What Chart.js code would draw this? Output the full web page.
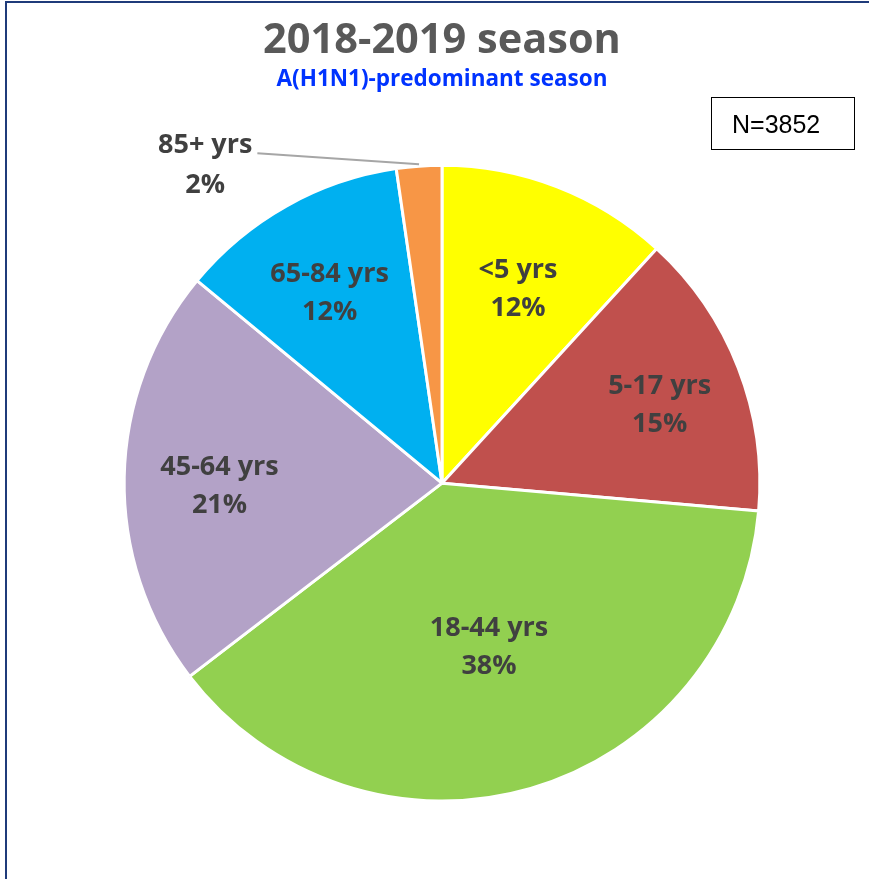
<!DOCTYPE html>
<html>
<head>
<meta charset="utf-8">
<script src="https://cdn.jsdelivr.net/npm/chart.js@4/dist/chart.umd.min.js"></script>
<style>
  html, body { margin: 0; padding: 0; background: #fff; }
  #wrap { position: relative; width: 869px; height: 879px; overflow: hidden; }
  #frame {
    position: absolute; left: 5px; top: 1px; width: 900px; height: 900px;
    border-left: 2px solid #1F3B7A; border-top: 2px solid #1F3B7A;
  }
  #nbox {
    position: absolute; left: 711px; top: 97px; width: 122px; height: 51px;
    padding-left: 20px;
    border: 1.5px solid #000; font-family: "Liberation Sans", Arial, sans-serif;
    font-size: 25px; line-height: 52px; text-align: left; color: #000;
  }
  canvas { position: absolute; left: 0; top: 0; }
</style>
</head>
<body>
<div id="wrap">
  <div id="frame"></div>
  <canvas id="pieChart" width="869" height="879"></canvas>
  <div id="nbox">N=3852</div>
</div>
<script>
// --- data ---
const ageGroups = ["<5 yrs", "5-17 yrs", "18-44 yrs", "45-64 yrs", "65-84 yrs", "85+ yrs"];
const sharePct = [11.8, 14.6, 38.2, 21.4, 11.7, 2.3];
const shareLabels = ["12%", "15%", "38%", "21%", "12%", "2%"];
const sliceColors = ["#FFFF00", "#C0504D", "#92D050", "#B3A2C7", "#00B0F0", "#F79646"];

// posisi label: fraksi jari-jari + geser sudut (derajat); null = label luar dengan garis
const labelRadius = [0.66, 0.73, 0.53, 0.70, 0.70, null];
const labelTurn = [0, 1, 0, -1.5, -1, 0];

const labelFont = 'bold 27px "Open Sans", sans-serif';
const labelColor = "#404040";

// plugin label irisan
const sliceLabels = {
  id: "sliceLabels",
  afterDatasetsDraw(chart) {
    const ctx = chart.ctx;
    const arcs = chart.getDatasetMeta(0).data;
    ctx.save();
    ctx.font = labelFont;
    ctx.fillStyle = labelColor;
    ctx.textAlign = "center";
    ctx.textBaseline = "middle";
    arcs.forEach((arc, i) => {
      const mid = (arc.startAngle + arc.endAngle) / 2;
      const r = labelRadius[i];
      if (r !== null) {
        const a = mid + labelTurn[i] * Math.PI / 180;
        const x = arc.x + Math.cos(a) * arc.outerRadius * r;
        const y = arc.y + Math.sin(a) * arc.outerRadius * r + 2;
        ctx.fillText(ageGroups[i], x, y - 19);
        ctx.fillText(shareLabels[i], x, y + 19);
      } else {
        // label luar (85+) dengan garis penunjuk
        const lx = arc.x - arc.outerRadius * 0.745;
        const ly = arc.y - arc.outerRadius * 1.0;
        ctx.fillText(ageGroups[i], lx, ly - 20);
        ctx.fillText(shareLabels[i], lx, ly + 20);
        const w = ctx.measureText(ageGroups[i]).width;
        const ex = arc.x + Math.cos(mid) * arc.outerRadius;
        const ey = arc.y + Math.sin(mid) * arc.outerRadius;
        ctx.strokeStyle = "#A6A6A6";
        ctx.lineWidth = 2;
        ctx.beginPath();
        ctx.moveTo(lx + w / 2 + 5, ly - 12);
        ctx.lineTo(ex, ey - 2);
        ctx.stroke();
      }
    });
    ctx.restore();
  }
};

new Chart(document.getElementById("pieChart"), {
  type: "pie",
  data: {
    labels: ageGroups,
    datasets: [{
      data: sharePct,
      backgroundColor: sliceColors,
      borderColor: "#FFFFFF",
      borderWidth: 3
    }]
  },
  options: {
    responsive: false,
    animation: false,
    events: [],
    layout: { padding: { left: 122.5, right: 107.5, top: 0, bottom: 76.5 } },
    plugins: {
      legend: { display: false },
      tooltip: { enabled: false },
      title: {
        display: true,
        text: "2018-2019 season",
        color: "#595959",
        font: { family: "Open Sans", size: 41.5, weight: "bold" },
        padding: { top: 16, bottom: 0 }
      },
      subtitle: {
        display: true,
        text: "A(H1N1)-predominant season",
        color: "#0033FF",
        font: { family: "Open Sans", size: 22.5, weight: "bold" },
        padding: { top: 0, bottom: 71 }
      }
    }
  },
  plugins: [sliceLabels]
});
</script>
</body>
</html>
